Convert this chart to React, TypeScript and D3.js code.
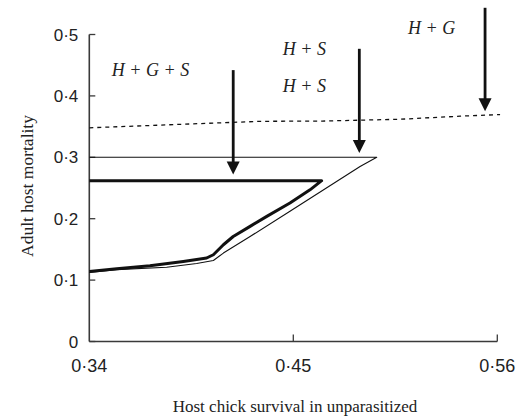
import * as d3 from 'd3';

// x: host chick survival in unparasitized nests, y: adult host mortality
const xTicks = [0.34, 0.45, 0.56];
const xTickLabels = ['0·34', '0·45', '0·56'];
const yTicks = [0, 0.1, 0.2, 0.3, 0.4, 0.5];
const yTickLabels = ['0', '0·1', '0·2', '0·3', '0·4', '0·5'];

// thin boundary: 0.3 horizontal, then the curve back down to the axis
const thinX = [0.34, 0.495, 0.486, 0.4482, 0.4267, 0.4123, 0.4069, 0.3979, 0.3817, 0.3548, 0.34];
const thinY = [0.3, 0.3, 0.285, 0.212, 0.171, 0.144, 0.132, 0.127, 0.121, 0.117, 0.1125];

// thick boundary: 0.26 horizontal, then the curve back down to the axis
const thickX = [0.34, 0.4653, 0.459, 0.4482, 0.4357, 0.4267, 0.4176, 0.4123, 0.4069, 0.4033, 0.3907, 0.3727, 0.3548, 0.34];
const thickY = [0.262, 0.262, 0.247, 0.2256, 0.2038, 0.1875, 0.171, 0.1576, 0.1413, 0.136, 0.1304, 0.1234, 0.1185, 0.114];

// dashed line
const dashX = [0.34, 0.3998, 0.432, 0.4656, 0.5077, 0.54, 0.5615];
const dashY = [0.348, 0.3549, 0.3586, 0.359, 0.362, 0.367, 0.3696];

// arrows: x, top, tip
const arrowX = [0.4176, 0.4856, 0.5534];
const arrowTop = [0.442, 0.4767, 0.5435];
const arrowTip = [0.272, 0.307, 0.375];

// italic labels
const labelText = ['H + G + S', 'H + S', 'H + S', 'H + G'];
const labelX = [0.373, 0.456, 0.456, 0.5246];
const labelY = [0.4324, 0.467, 0.407, 0.5004];

const W = 531, H = 416;
const x = d3.scaleLinear().domain([0.34, 0.56]).range([89.3, 497.3]);
const y = d3.scaleLinear().domain([0, 0.5]).range([341.5, 34.5]);

const line = d3.line<[number, number]>().x(d => x(d[0])).y(d => y(d[1]));
const zip = (a: number[], b: number[]) => a.map((v, i) => [v, b[i]] as [number, number]);

export default function App() {
  const axisColor = '#3a3a3a';
  const sans = '"Liberation Sans", Arial, sans-serif';
  const serif = '"Liberation Serif", "Times New Roman", serif';
  return (
    <div style={{ position: 'absolute', left: 0, top: 0 }}>
      <svg width={W} height={H} style={{ display: 'block', background: '#fff' }}>
        {/* axes */}
        <line x1={x(0.34)} x2={x(0.34)} y1={y(0.5)} y2={y(0)} stroke={axisColor} strokeWidth={1.6} />
        <line x1={x(0.34)} x2={x(0.56)} y1={y(0)} y2={y(0)} stroke={axisColor} strokeWidth={1.6} />
        {yTicks.map((t, i) => (
          <g key={'y' + i}>
            <line x1={x(0.34)} x2={x(0.34) + 6} y1={y(t)} y2={y(t)} stroke={axisColor} strokeWidth={1.3} />
            <text x={x(0.34) - 11} y={y(t)} dy="0.36em" textAnchor="end" fontFamily={sans} fontSize={17} fill="#222">
              {yTickLabels[i]}
            </text>
          </g>
        ))}
        {xTicks.map((t, i) => (
          <g key={'x' + i}>
            {i > 0 && <line x1={x(t)} x2={x(t)} y1={y(0)} y2={y(0) - 7} stroke={axisColor} strokeWidth={1.3} />}
            <text x={x(t)} y={371.5} textAnchor="middle" fontFamily={sans} fontSize={18} fill="#222">
              {xTickLabels[i]}
            </text>
          </g>
        ))}
        <text x={295} y={412} textAnchor="middle" fontFamily={serif} fontSize={17} fill="#222">
          Host chick survival in unparasitized
        </text>
        <text transform="translate(33,186) rotate(-90)" textAnchor="middle" fontFamily={serif} fontSize={17.5} fill="#222">
          Adult host mortality
        </text>

        {/* dashed line */}
        <path d={line(zip(dashX, dashY)) ?? ''} fill="none" stroke="#111" strokeWidth={1.3} strokeDasharray="4,4" />

        {/* thin and thick boundaries */}
        <path d={line(zip(thinX, thinY)) ?? ''} fill="none" stroke="#111" strokeWidth={1.1} strokeLinejoin="round" />
        <path d={line(zip(thickX, thickY)) ?? ''} fill="none" stroke="#111" strokeWidth={3} strokeLinejoin="round" />

        {/* arrows */}
        {arrowX.map((ax, i) => {
          const px = x(ax), tip = y(arrowTip[i]);
          return (
            <g key={'a' + i}>
              <line x1={px} x2={px} y1={y(arrowTop[i])} y2={tip - 10} stroke="#111" strokeWidth={2.8} />
              <path d={`M${px - 6.5},${tip - 13}L${px + 6.5},${tip - 13}L${px},${tip}Z`} fill="#111" />
            </g>
          );
        })}

        {/* labels */}
        {labelText.map((t, i) => (
          <text key={'l' + i} x={x(labelX[i])} y={y(labelY[i])} textAnchor="middle" fontFamily={serif} fontStyle="italic" fontSize={18} fill="#222">
            {t}
          </text>
        ))}
      </svg>
    </div>
  );
}
